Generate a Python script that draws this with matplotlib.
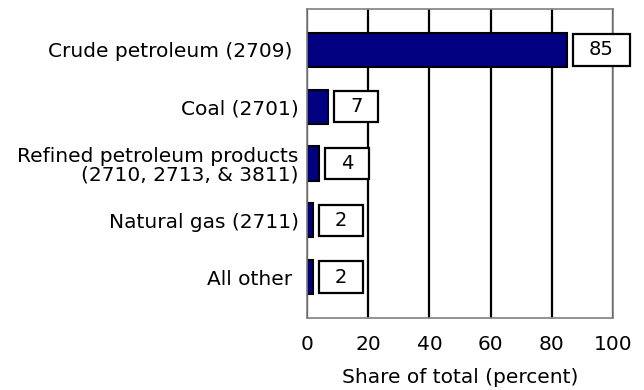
import matplotlib
matplotlib.use("Agg")
import matplotlib.pyplot as plt
from matplotlib.path import Path

categories = ["Crude petroleum (2709) ", "Coal (2701)",
              "Refined petroleum products\n(2710, 2713, & 3811)",
              "Natural gas (2711)", "All other "]
shares = [85, 7, 4, 2, 2]
ticks = [0, 20, 40, 60, 80, 100]


def label_box(x0, y0, width, height, mutation_size):
    # wide, flat box around the value labels
    px = 0.83 * mutation_size
    py = 0.32 * mutation_size
    x0, x1 = x0 - px, x0 + width + px
    y0, y1 = y0 - py, y0 + height + py
    return Path([(x0, y0), (x1, y0), (x1, y1), (x0, y1), (x0, y0)], closed=True)


fig = plt.figure(figsize=(6.44, 3.9), dpi=100)
ax = fig.add_axes([0.4767, 0.1846, 0.4752, 0.7923])

pos = list(range(len(categories)))
ax.barh(pos, shares, height=0.6, color="#000080", edgecolor="black", linewidth=1.5)

for p, v in zip(pos, shares):
    ax.annotate(str(v), (v, p), xytext=(15.5, 0), textcoords="offset points",
                ha="left", va="center", fontsize=14,
                bbox=dict(boxstyle=label_box, fc="white", ec="black", lw=1.6))

ax.set_xlim(0, 100)
ax.set_ylim(len(categories) - 0.28, -0.72)
ax.set_xticks(ticks)
ax.set_yticks(pos)
ax.set_yticklabels(categories, fontsize=14.5, linespacing=1.0)
ax.tick_params(axis="x", labelsize=14.5, length=0, pad=12)
ax.tick_params(axis="y", length=0, pad=6)
ax.xaxis.grid(True, color="black", linewidth=1.6)
ax.set_axisbelow(True)
for s in ax.spines.values():
    s.set_color("#808080")
    s.set_linewidth(1.2)
ax.set_xlabel("Share of total (percent)", fontsize=14.5, labelpad=10)

fig.savefig("out.png", dpi=100)
